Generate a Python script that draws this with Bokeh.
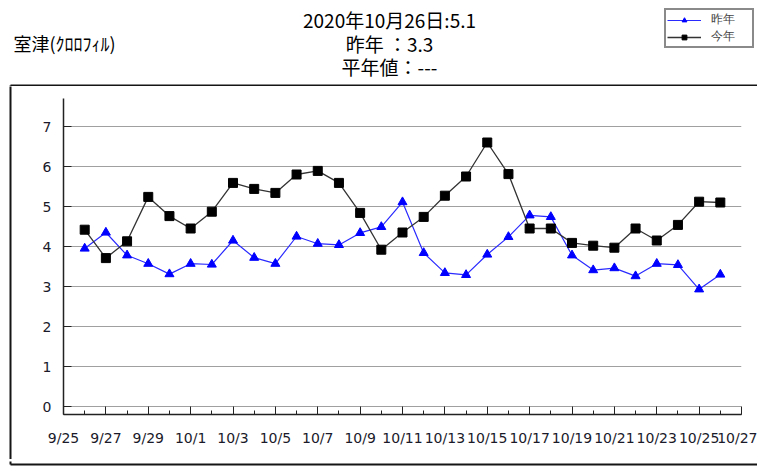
from bokeh.plotting import figure
from bokeh.layouts import column, row
from bokeh.models import Range1d, FixedTicker, Legend, LegendItem
from bokeh.core.properties import value
from bokeh.embed import file_html
from bokeh.resources import INLINE

# ---------------- data ----------------
station = "室津(ｸﾛﾛﾌｨﾙ)"
title_lines = ["2020年10月26日:5.1", "昨年 ：3.3", "平年値：---"]
series_names = ["昨年", "今年"]

dates = ["9/26", "9/27", "9/28", "9/29", "9/30", "10/1", "10/2", "10/3", "10/4", "10/5",
         "10/6", "10/7", "10/8", "10/9", "10/10", "10/11", "10/12", "10/13", "10/14", "10/15",
         "10/16", "10/17", "10/18", "10/19", "10/20", "10/21", "10/22", "10/23", "10/24", "10/25",
         "10/26"]

last_year = [3.95, 4.35, 3.78, 3.57, 3.31, 3.57, 3.55, 4.15, 3.72, 3.57,
             4.25, 4.07, 4.04, 4.34, 4.49, 5.11, 3.84, 3.34, 3.29, 3.80,
             4.24, 4.78, 4.74, 3.78, 3.41, 3.46, 3.26, 3.57, 3.54, 2.93,
             3.30]

this_year = [4.42, 3.71, 4.13, 5.24, 4.76, 4.45, 4.87, 5.59, 5.44, 5.34,
             5.80, 5.89, 5.59, 4.84, 3.92, 4.35, 4.74, 5.27, 5.75, 6.60,
             5.81, 4.45, 4.45, 4.09, 4.02, 3.97, 4.45, 4.15, 4.54, 5.12,
             5.10]

tick_labels = ["9/25", "9/27", "9/29", "10/1", "10/3", "10/5", "10/7", "10/9", "10/11",
               "10/13", "10/15", "10/17", "10/19", "10/21", "10/23", "10/25", "10/27"]
y_ticks = [0, 1, 2, 3, 4, 5, 6, 7]

BLUE = "#0000ff"
BLUE_LINE = "#2a2aff"
BLACK_LINE = "#333333"
BORDER = "#151515"


def day_index(s):
    m, d = (int(v) for v in s.split("/"))
    return d - 25 if m == 9 else d + 5


xs = [day_index(s) for s in dates]
major_ticks = [day_index(s) for s in tick_labels]
minor_ticks = list(range(major_ticks[0], major_ticks[-1] + 1))

PW, PH = 757, 469      # page size
HEAD_H = 86            # header strip height
BOT_H = 10             # bottom strip height
MID_H = PH - HEAD_H - BOT_H
LEFT_W = 12


def pixel_fig(w, h, bg="white"):
    f = figure(width=w, height=h, output_backend="svg", toolbar_location=None,
               x_range=Range1d(0, w), y_range=Range1d(h, 0),
               min_border=0, min_border_left=0, min_border_right=0,
               min_border_top=0, min_border_bottom=0, frame_align=False)
    f.xaxis.visible = False
    f.yaxis.visible = False
    f.grid.visible = False
    f.outline_line_color = None
    f.background_fill_color = bg
    f.border_fill_color = bg
    return f


# ---------------- header ----------------
head = pixel_fig(PW, HEAD_H)
head.text(x=[389, 389, 389], y=[19, 43, 66], text=title_lines,
          text_font=value("Noto Sans CJK JP"), text_font_size="19px",
          text_align="center", text_baseline="middle", text_color="black")
head.text(x=[13], y=[42], text=[station],
          text_font=value("Noto Sans CJK JP"), text_font_size="18px",
          text_align="left", text_baseline="middle", text_color="black")
head.line(x=[10, PW + 5], y=[85, 85], line_color=BORDER, line_width=2)
head.line(x=[10, 10], y=[85, HEAD_H + 2], line_color=BORDER, line_width=2)

hb_l = head.line(x=[-50, -40], y=[-50, -50], line_color=BLUE_LINE, line_width=1.2)
hb_s = head.scatter(x=[-50], y=[-50], marker="triangle", size=9, fill_color=BLUE, line_color=BLUE)
hk_l = head.line(x=[-50, -40], y=[-50, -50], line_color=BLACK_LINE, line_width=1.3)
hk_s = head.scatter(x=[-50], y=[-50], marker="square", size=9, fill_color="black", line_color="black")
legend = Legend(items=[LegendItem(label=series_names[0], renderers=[hb_l, hb_s]),
                       LegendItem(label=series_names[1], renderers=[hk_l, hk_s])],
                location=(664, HEAD_H - 48),
                label_text_font="DejaVu Sans", label_text_font_size="12px",
                glyph_width=34, glyph_height=12, label_height=12, label_width=40,
                label_standoff=10, spacing=0, padding=1, margin=0,
                border_line_color=BORDER, border_line_width=2,
                background_fill_color="white", background_fill_alpha=1)
head.add_layout(legend)

# ---------------- left strip ----------------
left = pixel_fig(LEFT_W, MID_H)
left.line(x=[10, 10], y=[-2, MID_H + 12], line_color=BORDER, line_width=2)

# ---------------- bottom strip ----------------
bot = pixel_fig(PW, BOT_H)
bot.line(x=[10, 10], y=[-2, 3], line_color=BORDER, line_width=2)
bot.line(x=[10, PW + 5], y=[3, 3], line_color=BORDER, line_width=2)

# ---------------- main chart ----------------
MW = PW - LEFT_W
p = figure(width=MW, height=MID_H, output_backend="svg", toolbar_location=None,
           x_range=Range1d(major_ticks[0], major_ticks[-1]), y_range=Range1d(-0.2, 7.7),
           min_border_left=63 - LEFT_W, min_border_right=PW - 741,
           min_border_top=98 - HEAD_H, min_border_bottom=(HEAD_H + MID_H) - 414,
           background_fill_color="white", border_fill_color="white", frame_align=False)
p.outline_line_color = None

xa = p.xaxis[0]
xa.ticker = FixedTicker(ticks=major_ticks, minor_ticks=minor_ticks)
xa.major_label_overrides = {t: l for t, l in zip(major_ticks, tick_labels)}
xa.axis_line_color = "#222222"
xa.axis_line_width = 1.5
xa.major_tick_in = 8
xa.major_tick_out = 0
xa.minor_tick_in = 4
xa.minor_tick_out = 0
xa.major_tick_line_color = "#222222"
xa.minor_tick_line_color = "#222222"
xa.major_label_text_font = "DejaVu Sans"
xa.major_label_text_font_size = "14px"
xa.major_label_text_color = "#1a1a2a"
xa.major_label_standoff = 15

ya = p.yaxis[0]
ya.ticker = FixedTicker(ticks=y_ticks, minor_ticks=[])
ya.axis_line_color = "#222222"
ya.axis_line_width = 1.5
ya.major_tick_in = 8
ya.major_tick_out = 0
ya.major_tick_line_color = "#222222"
ya.minor_tick_line_color = None
ya.major_label_text_font = "DejaVu Sans"
ya.major_label_text_font_size = "14px"
ya.major_label_text_color = "#1a1a2a"
ya.major_label_standoff = 12

p.xgrid.visible = False
p.ygrid.ticker = FixedTicker(ticks=y_ticks)
p.ygrid.grid_line_color = "#a0a0a0"
p.ygrid.grid_line_width = 1.2

p.line(xs, last_year, line_color=BLUE_LINE, line_width=1.2)
p.scatter(xs, last_year, marker="triangle", size=9, fill_color=BLUE, line_color=BLUE)
p.line(xs, this_year, line_color=BLACK_LINE, line_width=1.3)
p.scatter(xs, this_year, marker="square", size=9, fill_color="black", line_color="black")

layout = column(head, row(left, p, spacing=0), bot, spacing=0)
open("out.html", "w").write(file_html(layout, INLINE))
